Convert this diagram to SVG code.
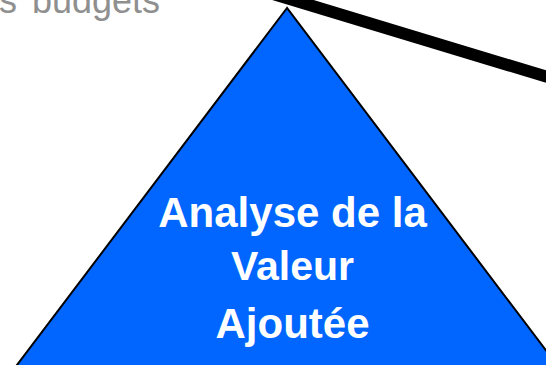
<svg xmlns="http://www.w3.org/2000/svg" width="546" height="365" viewBox="0 0 546 365">
<style>
.lbl{font-family:"Liberation Sans",Arial,sans-serif;font-weight:bold;font-size:42px;fill:#ffffff;text-anchor:middle}
.gray{font-family:"Liberation Sans",Arial,sans-serif;font-size:36px;fill:#8f8f8f}
</style>
<rect width="546" height="365" fill="#ffffff"/>
<text class="gray" x="-1" y="13" word-spacing="5">s budgets</text>
<g id="connectors">
<line x1="240" y1="-16" x2="560" y2="80.8" stroke="#000000" stroke-width="12"/>
</g>
<g id="triangle">
<polygon points="287,8 9.4,375 564.6,375" fill="#0066ff" stroke="#000000" stroke-width="2"/>
<text class="lbl" x="292.5" y="226.5">Analyse de la</text>
<text class="lbl" x="292.5" y="280" style="font-size:41px">Valeur</text>
<text class="lbl" x="292.5" y="337.5">Ajoutée</text>
</g>
</svg>
